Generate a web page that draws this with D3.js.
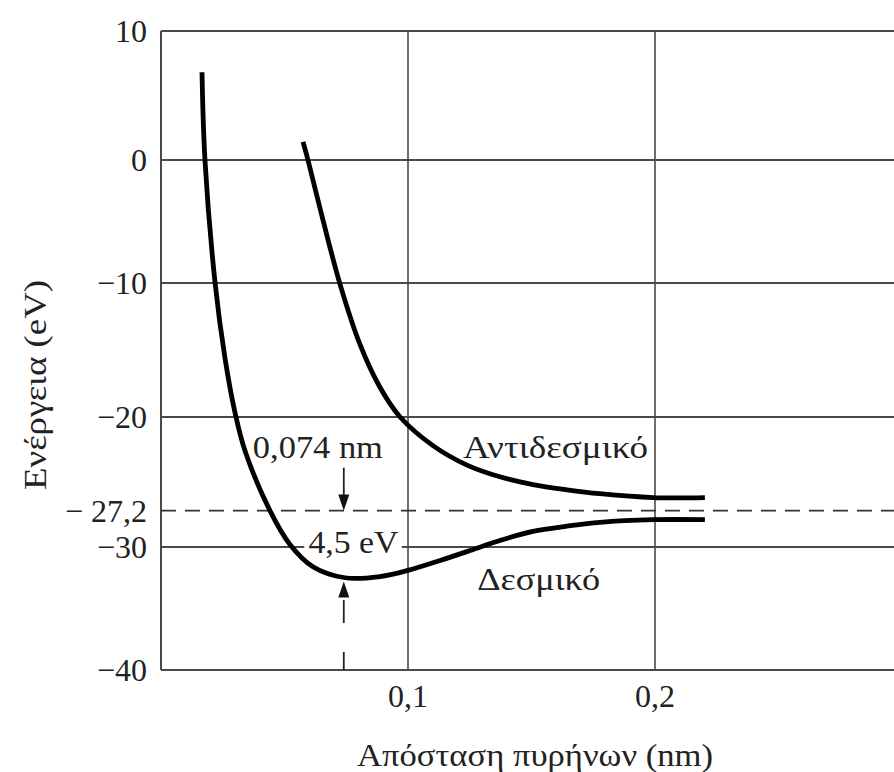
<!DOCTYPE html>
<html>
<head>
<meta charset="utf-8">
<script src="https://cdn.jsdelivr.net/npm/d3@7"></script>
<style>
  html, body { margin: 0; padding: 0; background: #fff; }
  svg { display: block; }
  text { font-family: "Liberation Serif", "DejaVu Serif", serif; fill: #222; }
</style>
</head>
<body>
<div id="chart"></div>
<script>
// --- 資料 ---
const yTicks = [10, 0, -10, -20, -27.2, -30, -40];
const yTickLabels = ["10", "0", "\u221210", "\u221220", "\u2212 27,2", "\u221230", "\u221240"];
const yGrid = [10, 0, -10, -20, -30, -40];
const xTicks = [0.1, 0.2];
const xTickLabels = ["0,1", "0,2"];

// 鍵結 (Δεσμικό)
const bondX = [0.0166, 0.0178, 0.0219, 0.0259, 0.0300, 0.0340, 0.0441, 0.0522, 0.0615, 0.0745, 0.0887, 0.1000, 0.1130, 0.1279, 0.1372, 0.1506, 0.1644, 0.1777, 0.1992, 0.2202];
const bondE = [6.8, 0, -10, -15.6, -19.7, -22.6, -27.2, -29.8, -31.6, -32.5, -32.4, -31.9, -31.1, -30.1, -29.5, -28.8, -28.4, -28.1, -27.9, -27.9];

// 反鍵結 (Αντιδεσμικό)
const antiX = [0.0575, 0.0595, 0.0656, 0.0725, 0.0806, 0.0887, 0.0968, 0.1101, 0.1239, 0.1372, 0.1506, 0.1644, 0.1777, 0.1992, 0.2202];
const antiE = [1.4, 0, -4.9, -10.1, -14.6, -17.8, -20, -22.2, -23.7, -24.6, -25.2, -25.6, -25.9, -26.2, -26.2];

const refE = -27.2;       // 虛線
const rMin = 0.074;       // 平衡距離
const eMin = -32.8;       // 箭頭指到的最低點
const arrowTopE = -23.9;  // 上方箭頭起點

const width = 894, height = 772;

const svg = d3.select("#chart").append("svg")
    .attr("width", width)
    .attr("height", height);

svg.append("rect").attr("width", width).attr("height", height).attr("fill", "#fff");

// 掃描圖的格線間距不太均勻，用分段線性比例尺
const x = d3.scaleLinear().domain([0, 0.3]).range([161, 902]);
const y = d3.scaleLinear()
    .domain([10, 0, -10, -20, -30, -40])
    .range([31, 160, 283, 417, 547, 670]);

const [x0, x1] = x.range();

// --- 格線 ---
const grid = svg.append("g").attr("stroke", "#4a4a4a").attr("stroke-width", 2);
grid.selectAll("line.h").data(yGrid).enter().append("line")
    .attr("class", "h")
    .attr("x1", x0).attr("x2", x1)
    .attr("y1", d => y(d)).attr("y2", d => y(d));
grid.selectAll("line.v").data([0].concat(xTicks)).enter().append("line")
    .attr("class", "v")
    .attr("stroke-width", d => d === 0 ? 2 : 1.6)
    .attr("x1", d => x(d)).attr("x2", d => x(d))
    .attr("y1", y(10)).attr("y2", y(-40));

// 虛線 -27,2
svg.append("line")
    .attr("x1", x0).attr("x2", x1)
    .attr("y1", y(refE)).attr("y2", y(refE))
    .attr("stroke", "#333").attr("stroke-width", 1.6)
    .attr("stroke-dasharray", "15,9");

// --- 刻度文字 ---
svg.append("g").selectAll("text").data(yTicks).enter().append("text")
    .attr("x", 147)
    .attr("y", d => y(d) + 11)
    .attr("text-anchor", "end")
    .attr("font-size", 32)
    .text((d, i) => yTickLabels[i]);

svg.append("g").selectAll("text").data(xTicks).enter().append("text")
    .attr("x", d => x(d))
    .attr("y", 707)
    .attr("text-anchor", "middle")
    .attr("font-size", 32)
    .text((d, i) => xTickLabels[i]);

// 寬度照原圖量 (textLength)
function label(tx, ty, str, len, anchor) {
    return svg.append("text")
        .attr("x", tx).attr("y", ty)
        .attr("text-anchor", anchor || "start")
        .attr("font-size", 32)
        .attr("textLength", len)
        .attr("lengthAdjust", "spacingAndGlyphs")
        .text(str);
}

// 軸標題
label(535, 766, "Απόσταση πυρήνων (nm)", 356, "middle");
label(0, 0, "Ενέργεια (eV)", 210, "middle")
    .attr("transform", "translate(46,385) rotate(-90)");

// 4,5 eV 標籤 (白底蓋住格線)
svg.append("rect")
    .attr("x", x(0.058)).attr("y", y(-28.6))
    .attr("width", x(0.0975) - x(0.058)).attr("height", y(-31) - y(-28.6))
    .attr("fill", "#fff");
label(x(0.0597), 553, "4,5 eV", 90);

// --- 曲線 ---
const line = d3.line()
    .x(d => x(d[0]))
    .y(d => y(d[1]))
    .curve(d3.curveCatmullRom.alpha(0.5));

const curves = [
    d3.zip(bondX, bondE),
    d3.zip(antiX, antiE)
];

svg.append("g").selectAll("path").data(curves).enter().append("path")
    .attr("d", line)
    .attr("fill", "none")
    .attr("stroke", "#000")
    .attr("stroke-width", 4.8)
    .attr("stroke-linecap", "butt");

// --- 箭頭 ---
function arrowHead(tipY, dir) {
    // dir: +1 往下, -1 往上
    const cx = x(rMin);
    const len = 16, half = 5.5;
    svg.append("path")
        .attr("d", `M${cx},${tipY} L${cx - half},${tipY - dir * len} L${cx + half},${tipY - dir * len} Z`)
        .attr("fill", "#111");
}

svg.append("line")
    .attr("x1", x(rMin)).attr("x2", x(rMin))
    .attr("y1", y(arrowTopE)).attr("y2", y(refE) - 10)
    .attr("stroke", "#222").attr("stroke-width", 1.8);
arrowHead(y(refE), 1);

svg.append("line")
    .attr("x1", x(rMin)).attr("x2", x(rMin))
    .attr("y1", y(-40)).attr("y2", y(eMin) + 16)
    .attr("stroke", "#222").attr("stroke-width", 1.8)
    .attr("stroke-dasharray", "18,29,23");
arrowHead(y(eMin), -1);

// --- 文字標籤 ---
label(x(0.0372), 458, "0,074 nm", 130);
label(x(0.1223), 458, "Αντιδεσμικό", 185);
label(x(0.128), 590, "Δεσμικό", 123);
</script>
</body>
</html>
